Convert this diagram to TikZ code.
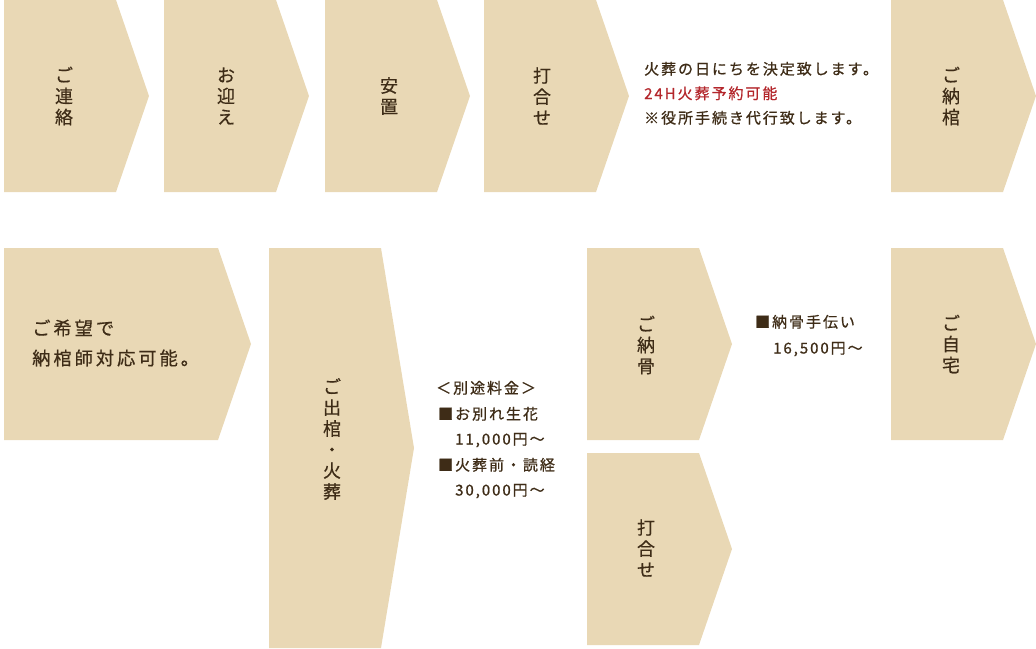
\documentclass[tikz,border=0pt]{standalone}
\usepackage{fontspec}
\setmainfont{Noto Sans CJK JP}
\newfontfamily\jpv[FakeBold=0.5]{Noto Sans CJK JP}
\newfontfamily\jpsp[LetterSpace=13,FakeBold=0.8]{Noto Sans CJK JP}
\newfontfamily\jpspl[LetterSpace=16,FakeBold=0.6]{Noto Sans CJK JP}
\definecolor{beige}{HTML}{E9D8B5}
\definecolor{ink}{HTML}{3E2C17}
\definecolor{redtxt}{HTML}{B3262B}
\begin{document}
\begin{tikzpicture}[x=1pt,y=-1pt,
  chev/.style={fill=beige},
  vtext/.style={align=center,text=ink,inner sep=0pt,font=\jpv\fontsize{18}{21}\selectfont},
  htext/.style={anchor=base west,inner sep=0pt,text=ink,font=\jpsp\fontsize{15}{20}\selectfont},
  ltext/.style={anchor=base west,inner sep=0pt,text=ink,font=\jpspl\fontsize{18.3}{24}\selectfont}]
\useasboundingbox (0,0) rectangle (1036,648);
% top row chevrons
\fill[chev] (4,0) -- (116,0) -- (149,96) -- (116,192) -- (4,192) -- cycle;
\fill[chev] (164,0) -- (276,0) -- (309,96) -- (276,192) -- (164,192) -- cycle;
\fill[chev] (325,0) -- (437,0) -- (470,96) -- (437,192) -- (325,192) -- cycle;
\fill[chev] (484,0) -- (596,0) -- (629,96) -- (596,192) -- (484,192) -- cycle;
\fill[chev] (891,0) -- (1003,0) -- (1036,96) -- (1003,192) -- (891,192) -- cycle;
% second row chevrons
\fill[chev] (4,248) -- (218,248) -- (251,344) -- (218,440) -- (4,440) -- cycle;
\fill[chev] (269,248) -- (381,248) -- (414,448) -- (381,648) -- (269,648) -- cycle;
\fill[chev] (587,248) -- (699,248) -- (732,344) -- (699,440) -- (587,440) -- cycle;
\fill[chev] (587,453) -- (699,453) -- (732,549) -- (699,645) -- (587,645) -- cycle;
\fill[chev] (891,248) -- (1003,248) -- (1036,344) -- (1003,440) -- (891,440) -- cycle;
% vertical labels
\node[vtext] (renraku) at (64,96) {ご\\連\\絡};
\node[vtext] (omukae) at (226,96) {お\\迎\\え};
\node[vtext] (anchi) at (389,96) {安\\置};
\node[vtext] (uchiawase) at (542,96) {打\\合\\せ};
\node[vtext] (nokan) at (951,96) {ご\\納\\棺};
\node[vtext] (shukkan) at (332,439) {ご\\出\\棺\\・\\火\\葬};
\node[vtext] (nokotsu) at (646,345) {ご\\納\\骨};
\node[vtext] (uchiawase2) at (646,548) {打\\合\\せ};
\node[vtext] (jitaku) at (951,344) {ご\\自\\宅};
% top right notes
\node[htext] (note1) at (644,74.5) {火葬の日にちを決定致します。};
\node[htext,text=redtxt] (note2) at (644,99) {24H火葬予約可能};
\node[htext] (note3) at (644,123.5) {※役所手続き代行致します。};
% left box text
\node[ltext] (kibo1) at (32,335) {ご希望で};
\node[ltext] (kibo2) at (32,365) {納棺師対応可能。};
% extra charges
\node[htext] (bet0) at (436,393.5) {＜別途料金＞};
\node[htext] (bet1) at (438,419.5) {■お別れ生花};
\node[htext] (bet2) at (455,444.5) {11,000円～};
\node[htext] (bet3) at (438,470.5) {■火葬前・読経};
\node[htext] (bet4) at (455,495.5) {30,000円～};
% nokotsu note
\node[htext] (not1) at (755,327.5) {■納骨手伝い};
\node[htext] (not2) at (773,353.5) {16,500円～};
\end{tikzpicture}
\end{document}
